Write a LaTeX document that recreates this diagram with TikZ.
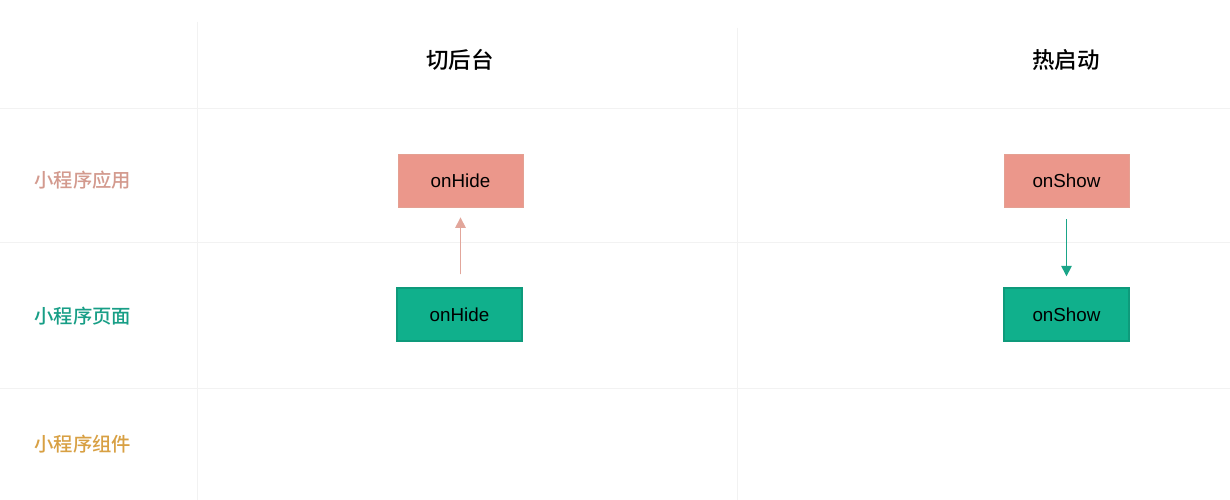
\documentclass[tikz,border=0pt]{standalone}
\usepackage{fontspec}
\setmainfont{Liberation Sans}
\newfontfamily\cjk{Noto Sans CJK SC}[UprightFont={* Medium}]
\usetikzlibrary{arrows.meta}
\definecolor{salmon}{HTML}{EB978B}
\definecolor{salmonedge}{HTML}{E4A092}
\definecolor{tealbox}{HTML}{10B08C}
\definecolor{tealedge}{HTML}{0E9A7B}
\definecolor{appc}{HTML}{D39A8E}
\definecolor{pagec}{HTML}{179E86}
\definecolor{compc}{HTML}{D8A043}
\definecolor{gridc}{HTML}{F2F2F2}
\definecolor{uparrow}{HTML}{E2A69B}
\definecolor{downarrow}{HTML}{1AA588}
\tikzset{
  gridline/.style={draw=gridc, line width=0.5pt},
  appbox/.style={fill=salmon, draw=salmonedge, line width=0.5pt, minimum width=2.5cm, minimum height=1.06cm, inner sep=0pt, font=\fontsize{10.7}{12}\selectfont},
  pagebox/.style={fill=tealbox, draw=tealedge, line width=0.8pt, minimum width=2.5cm, minimum height=1.06cm, inner sep=0pt, font=\fontsize{10.7}{12}\selectfont},
  rowlabel/.style={anchor=west, inner sep=0pt, font=\cjk\fontsize{11}{13}\selectfont},
  header/.style={inner sep=0pt, font=\cjk\fontsize{12.8}{15}\selectfont},
  conn/.style={line width=0.8pt, -{Triangle[length=6pt,width=6pt]}}
}
\begin{document}
\begin{tikzpicture}[x=0.02cm,y=-0.02cm]
\useasboundingbox[fill=white] (0,0) rectangle (1230,500);
% grid
\draw[gridline] (0,108) -- (1230,108);
\draw[gridline] (0,242) -- (1230,242);
\draw[gridline] (0,388) -- (1230,388);
\draw[gridline] (197,22) -- (197,500);
\draw[gridline] (737,28) -- (737,500);
% headers
\node[header] (h1) at (460,60) {切后台};
\node[header] (h2) at (1066,60) {热启动};
% row labels
\node[rowlabel, text=appc] (r1) at (34,180) {小程序应用};
\node[rowlabel, text=pagec] (r2) at (34,316) {小程序页面};
\node[rowlabel, text=compc] (r3) at (34,444) {小程序组件};
% boxes
\node[appbox] (hideapp) at (460.5,180.5) {onHide};
\node[pagebox] (hidepage) at (459.5,314.5) {onHide};
\node[appbox] (showapp) at (1066.5,180.5) {onShow};
\node[pagebox] (showpage) at (1066.5,314.5) {onShow};
% connectors
\draw[conn, draw=uparrow, fill=uparrow] ([yshift=0.26cm]hidepage.north -| hideapp.south) -- ([yshift=-0.2cm]hideapp.south);
\draw[conn, draw=downarrow, fill=downarrow] ([yshift=-0.24cm]showapp.south) -- ([yshift=0.22cm]showpage.north);
\end{tikzpicture}
\end{document}
